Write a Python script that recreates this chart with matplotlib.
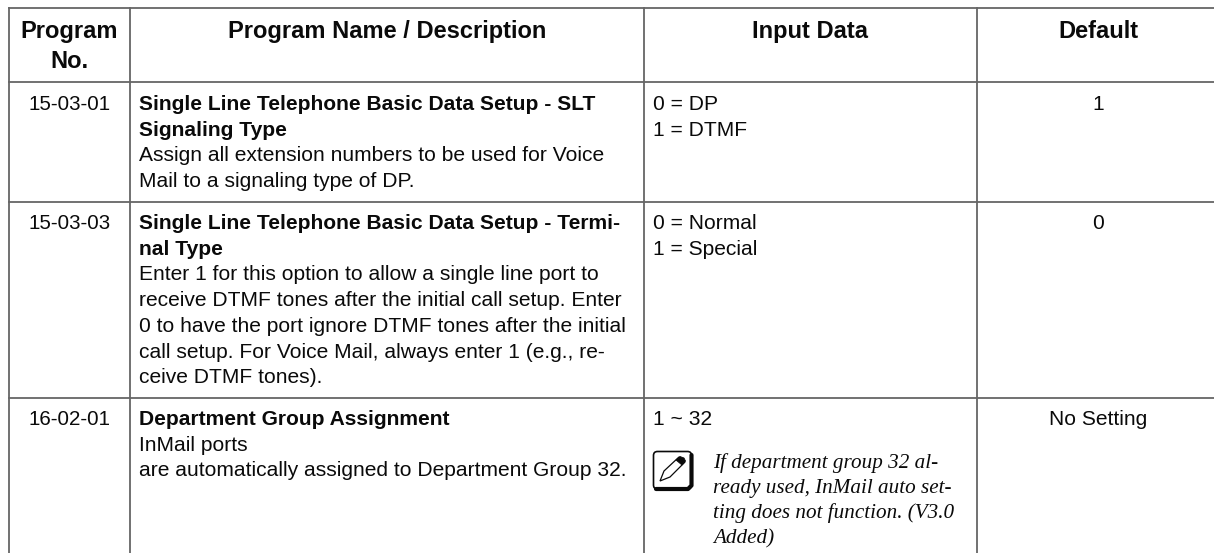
"""
Recreate the voice mail program table as a matplotlib figure.
"""

import matplotlib

matplotlib.use("Agg")

import matplotlib.pyplot as plt
from matplotlib.patches import FancyBboxPatch, Polygon


HEADERS = [["Program", "No."], ["Program Name / Description"], ["Input Data"], ["Default"]]

PROGRAM_NUMBERS = ["15-03-01", "15-03-03", "16-02-01"]

NAME_LINES = [
    ["Single Line Telephone Basic Data Setup - SLT", "Signaling Type"],
    ["Single Line Telephone Basic Data Setup - Termi-", "nal Type"],
    ["Department Group Assignment"],
]

DESCRIPTION_LINES = [
    ["Assign all extension numbers to be used for Voice", "Mail to a signaling type of DP."],
    [
        "Enter 1 for this option to allow a single line port to",
        "receive DTMF tones after the initial call setup. Enter",
        "0 to have the port ignore DTMF tones after the initial",
        "call setup. For Voice Mail, always enter 1 (e.g., re-",
        "ceive DTMF tones).",
    ],
    ["InMail ports", "are automatically assigned to Department Group 32."],
]

INPUT_LINES = [["0 = DP", "1 = DTMF"], ["0 = Normal", "1 = Special"], ["1 ~ 32"]]

NOTE_LINES = [
    "If department group 32 al-",
    "ready used, InMail auto set-",
    "ting does not function. (V3.0",
    "Added)",
]

DEFAULTS = ["1", "0", "No Setting"]

# layout, in pixels of the 1214x553 picture
COLUMN_LINES = [9, 130, 644, 977]
ROW_LINES = [8, 82, 202, 398]
COLUMN_CENTERS = [69.5, 387, 810, 1098]
ROW_BASELINES = [110, 229, 425]
NAME_LEFT = 139
INPUT_LEFT = 653
LINE_STEP = 25.7
BODY_SIZE = 15.1
NUMBER_SIZE = 14.8
HEADER_SIZE = 17
NOTE_SIZE = 15.2
SANS = "Liberation Sans"
SERIF = "Liberation Serif"
INK = "#0a0a0a"
RULE = "#666666"


def draw_lines(ax, x, y, lines, **style) -> None:
    """
    Draw lines of text one under the other from baseline y.
    """

    for index, line in enumerate(lines):
        ax.text(x, y + index * LINE_STEP, line, va="baseline", color=INK, family=SANS, **style)


def draw_note_icon(ax) -> None:
    """
    Draw the boxed pencil icon next to the note.
    """

    ax.add_patch(FancyBboxPatch((653.5, 451.5), 38, 37.5, boxstyle="round,pad=0,rounding_size=4",
                                fc="white", ec=INK, lw=1.2))
    ax.plot([656, 688, 691.5, 691.5], [489, 489, 485.5, 455], color=INK, lw=3.0,
            solid_capstyle="round", solid_joinstyle="round")
    ax.add_patch(Polygon([[660, 481], [664, 471], [679, 457], [685, 462], [670, 477]],
                         closed=True, fc="white", ec=INK, lw=0.9))
    ax.add_patch(Polygon([[676, 460], [680, 456.5], [684, 458], [685.5, 461], [682, 465]],
                         closed=True, fc=INK, ec=INK, lw=0.6))


def create_table() -> None:
    """
    Draw the rules and all the cell text.
    """

    fig = plt.figure(figsize=(12.14, 5.53), dpi=100)
    ax = fig.add_axes([0, 0, 1, 1])
    ax.set_xlim(0, 1214)
    ax.set_ylim(553, 0)
    ax.axis("off")

    for x in COLUMN_LINES:
        ax.plot([x, x], [ROW_LINES[0], 553], color=RULE, lw=1.3)
    for y in ROW_LINES:
        ax.plot([COLUMN_LINES[0], 1214], [y, y], color=RULE, lw=1.3)

    for index, lines in enumerate(HEADERS):
        for number, line in enumerate(lines):
            ax.text(COLUMN_CENTERS[index], 38 + number * 29.5, line, ha="center", va="baseline",
                    color=INK, family=SANS, fontsize=HEADER_SIZE, fontweight="bold")

    for index, baseline in enumerate(ROW_BASELINES):
        ax.text(COLUMN_CENTERS[0], baseline, PROGRAM_NUMBERS[index], ha="center", va="baseline",
                color=INK, family=SANS, fontsize=NUMBER_SIZE)
        draw_lines(ax, NAME_LEFT, baseline, NAME_LINES[index],
                   fontsize=BODY_SIZE, fontweight="bold")
        draw_lines(ax, NAME_LEFT, baseline + len(NAME_LINES[index]) * LINE_STEP,
                   DESCRIPTION_LINES[index], fontsize=BODY_SIZE)
        draw_lines(ax, INPUT_LEFT, baseline, INPUT_LINES[index], fontsize=BODY_SIZE)
        ax.text(COLUMN_CENTERS[3], baseline, DEFAULTS[index], ha="center", va="baseline",
                color=INK, family=SANS, fontsize=BODY_SIZE)

    draw_note_icon(ax)
    for index, line in enumerate(NOTE_LINES):
        ax.text(713, 468 + index * 25, line, va="baseline", color=INK,
                family=SERIF, fontsize=NOTE_SIZE, style="italic")

    fig.savefig("out.png", dpi=100, facecolor="white")


def main() -> None:
    """
    Build the figure.
    """

    create_table()


if __name__ == "__main__":
    main()
